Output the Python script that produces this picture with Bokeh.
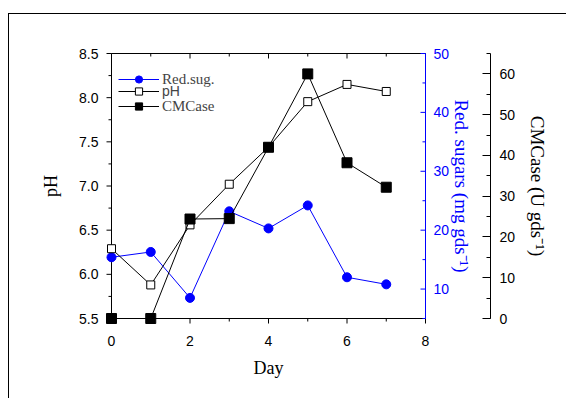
import numpy as np
from bokeh.plotting import figure
from bokeh.models import (Range1d, LinearAxis, SingleIntervalTicker,
                          Legend, LegendItem, NumeralTickFormatter, ColumnDataSource)
from bokeh.embed import file_html
from bokeh.resources import INLINE

# ---- data ----
days = [0, 1, 2, 3, 4, 5, 6, 7]
ph = [6.29, 5.88, 6.56, 7.02, 7.44, 7.955, 8.15, 8.07]
red_sugars = [15.4, 16.3, 8.5, 23.2, 20.3, 24.2, 12.0, 10.8]
cmcase = [0.0, 0.0, 24.4, 24.5, 42.0, 60.0, 38.2, 32.2]

# axis extents and tick positions
x_bounds = (0, 8)
ph_bounds = (5.5, 8.5)
sug_bounds = (5, 50)
cmc_bounds = (0, 65)
x_major = [0, 2, 4, 6, 8]
x_minor = [1, 3, 5, 7]
ph_major = [5.5, 6.0, 6.5, 7.0, 7.5, 8.0, 8.5]
ph_minor = [5.75, 6.25, 6.75, 7.25, 7.75, 8.25]
sug_major = [10, 20, 30, 40, 50]
sug_minor = [5, 15, 25, 35, 45]

x_label = "Day"
ph_label = "pH"
sug_label = "Red. sugars (mg gds\u207b\u00b9)"
cmc_label = "CMCase (U gds\u207b\u00b9)"

BLUE = "#0000FF"
SANS = "Liberation Sans"
SERIF = "Liberation Serif"

# ---- layout (pixels) ----
AX_W, AX_H = 314, 265          # size of the axes box
PAD = 10                       # room around the axes box so edge markers are not cut


def padded(lo, hi, span_px):
    d = (hi - lo) * PAD / span_px
    return Range1d(lo - d, hi + d)


x_px = (x_bounds[1] - x_bounds[0]) / AX_W
ph_px = (ph_bounds[1] - ph_bounds[0]) / AX_H
sug_px = (sug_bounds[1] - sug_bounds[0]) / AX_H

src = ColumnDataSource(dict(day=days, ph=ph, sug=red_sugars, cmc=cmcase))

W, H = 558, 385
p = figure(width=W, height=H, output_backend="svg", toolbar_location=None,
           x_range=padded(*x_bounds, AX_W), y_range=padded(*ph_bounds, AX_H),
           min_border_left=92, min_border_right=W - 92 - (AX_W + 2 * PAD),
           min_border_top=29, min_border_bottom=H - 29 - (AX_H + 2 * PAD),
           x_axis_location=None, y_axis_location=None)
p.margin = (13, 0, 0, 8)
p.styles = {"border-left": "1px solid black", "border-top": "1px solid black"}
p.extra_y_ranges = {"sug": padded(*sug_bounds, AX_H), "cmc": padded(*cmc_bounds, AX_H)}
p.xgrid.visible = False
p.ygrid.visible = False
p.outline_line_color = None
p.background_fill_color = "white"
p.border_fill_color = "white"


def style_axis(ax, color="black", title_size="18px", hide_lines=True):
    if hide_lines:
        ax.axis_line_color = None
        ax.major_tick_line_color = None
        ax.minor_tick_line_color = None
        ax.major_tick_in = ax.major_tick_out = 0
        ax.minor_tick_in = ax.minor_tick_out = 0
    else:
        ax.axis_line_color = color
        ax.major_tick_line_color = color
        ax.minor_tick_line_color = color
    ax.major_label_text_color = color
    ax.major_label_text_font = SANS
    ax.major_label_text_font_size = "14px"
    ax.axis_label_text_font = SERIF
    ax.axis_label_text_font_size = title_size
    ax.axis_label_text_font_style = "normal"
    ax.axis_label_text_color = color


# ---- axis box lines and ticks (drawn in data space) ----
def seg(x0, y0, x1, y1, color="black", **kw):
    p.segment(x0=x0, y0=y0, x1=x1, y1=y1, line_color=color, line_width=1, **kw)


# left pH axis, ticks outward
seg([x_bounds[0]], [ph_bounds[0]], [x_bounds[0]], [ph_bounds[1]])
seg([x_bounds[0]] * len(ph_major), ph_major, [x_bounds[0] - 5 * x_px] * len(ph_major), ph_major)
seg([x_bounds[0]] * len(ph_minor), ph_minor, [x_bounds[0] - 3 * x_px] * len(ph_minor), ph_minor)
# bottom axis, ticks outward
seg([x_bounds[0]], [ph_bounds[0]], [x_bounds[1]], [ph_bounds[0]])
seg(x_major, [ph_bounds[0]] * len(x_major), x_major, [ph_bounds[0] - 5 * ph_px] * len(x_major))
seg(x_minor, [ph_bounds[0]] * len(x_minor), x_minor, [ph_bounds[0] - 3 * ph_px] * len(x_minor))
# top axis, ticks inward
seg([x_bounds[0]], [ph_bounds[1]], [x_bounds[1]], [ph_bounds[1]])
seg(x_major, [ph_bounds[1]] * len(x_major), x_major, [ph_bounds[1] - 5 * ph_px] * len(x_major))
seg(x_minor, [ph_bounds[1]] * len(x_minor), x_minor, [ph_bounds[1] - 3 * ph_px] * len(x_minor))
# blue reducing-sugar axis at day 8, ticks inward
seg([x_bounds[1]], [sug_bounds[0]], [x_bounds[1]], [sug_bounds[1]], BLUE, y_range_name="sug")
seg([x_bounds[1]] * len(sug_major), sug_major, [x_bounds[1] - 5 * x_px] * len(sug_major), sug_major,
    BLUE, y_range_name="sug")
seg([x_bounds[1]] * len(sug_minor), sug_minor, [x_bounds[1] - 3 * x_px] * len(sug_minor), sug_minor,
    BLUE, y_range_name="sug")

# ---- axes for the labels ----
xb = LinearAxis(ticker=SingleIntervalTicker(interval=2, num_minor_ticks=2), axis_label=x_label,
                bounds=x_bounds)
style_axis(xb)
xb.major_label_standoff = 7
xb.axis_label_standoff = 9
p.add_layout(xb, "below")

yl = LinearAxis(ticker=SingleIntervalTicker(interval=0.5, num_minor_ticks=2),
                formatter=NumeralTickFormatter(format="0.0"), axis_label=ph_label, bounds=ph_bounds)
style_axis(yl)
yl.major_label_standoff = 3
yl.axis_label_standoff = 15
p.add_layout(yl, "left")

yr = LinearAxis(y_range_name="sug", ticker=SingleIntervalTicker(interval=10, num_minor_ticks=2),
                axis_label=sug_label, bounds=sug_bounds)
style_axis(yr, BLUE, "19px")
yr.major_label_standoff = -2
yr.axis_label_standoff = -1
p.add_layout(yr, "right")

# invisible spacer that pushes the CMCase axis outwards
sp = LinearAxis(y_range_name="sug", ticker=SingleIntervalTicker(interval=10, num_minor_ticks=0),
                bounds=sug_bounds)
sp.axis_line_color = None
sp.major_tick_line_color = None
sp.minor_tick_line_color = None
sp.major_label_text_color = None
sp.major_label_text_font_size = "0px"
sp.major_label_standoff = 0
sp.major_tick_in = 0
sp.major_tick_out = 15
sp.minor_tick_out = 0
p.add_layout(sp, "right")

yc = LinearAxis(y_range_name="cmc", ticker=SingleIntervalTicker(interval=10, num_minor_ticks=2),
                axis_label=cmc_label, bounds=cmc_bounds)
style_axis(yc, "black", "19px", hide_lines=False)
yc.major_tick_in, yc.major_tick_out = 8, 0
yc.minor_tick_in, yc.minor_tick_out = 4, 0
yc.major_label_standoff = 9
yc.axis_label_standoff = 9
p.add_layout(yc, "right")

# ---- series ----
l_sug = p.line("day", "sug", source=src, y_range_name="sug", line_color=BLUE, line_width=1)
m_sug = p.scatter("day", "sug", source=src, y_range_name="sug", marker="circle", size=9,
                  fill_color=BLUE, line_color=BLUE)
l_ph = p.line("day", "ph", source=src, line_color="black", line_width=1)
m_ph = p.scatter("day", "ph", source=src, marker="square", size=8,
                 fill_color="white", line_color="black", line_width=1)
l_cmc = p.line("day", "cmc", source=src, y_range_name="cmc", line_color="black", line_width=1)
m_cmc = p.scatter("day", "cmc", source=src, y_range_name="cmc", marker="square", size=10,
                  fill_color="black", line_color="black")

# legend: one small legend per entry so that the rows sit close together
legend_rows = [("Red.sug.", [l_sug, m_sug], SERIF, "15px", 240),
               ("pH", [l_ph, m_ph], SANS, "14px", 228),
               ("CMCase", [l_cmc, m_cmc], SERIF, "15px", 213)]
for label, rends, font, size, ypos in legend_rows:
    lg = Legend(items=[LegendItem(label=label, renderers=rends)],
                location=(PAD + 7, ypos), glyph_width=41, glyph_height=18, label_height=18,
                spacing=0, padding=0, margin=0, label_standoff=3,
                label_text_font=font, label_text_font_size=size,
                border_line_color=None, background_fill_color=None)
    p.add_layout(lg, "center")

open("out.html", "w").write(file_html(p, INLINE))
